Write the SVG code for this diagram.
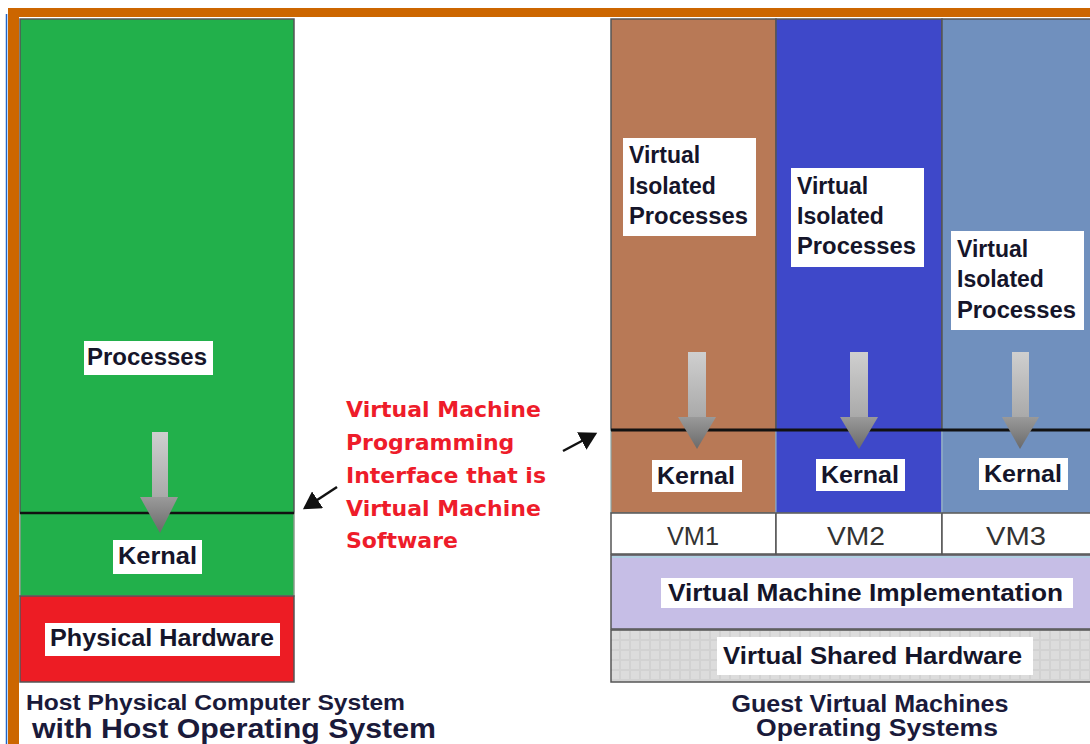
<svg xmlns="http://www.w3.org/2000/svg" width="1090" height="744" viewBox="0 0 1090 744">
<style>
.lbl{font-family:"Liberation Sans",Arial,sans-serif;font-weight:bold;font-size:23px;fill:#15152a}
.vm{font-family:"Liberation Sans",Arial,sans-serif;font-size:25px;fill:#333;text-anchor:middle}
.red{font-family:"DejaVu Sans",Verdana,sans-serif;font-weight:bold;font-size:22px;fill:#ee1c2a}
.cap{font-family:"Liberation Sans",Arial,sans-serif;font-weight:bold;fill:#1a1a3a}
.box{fill:#fff}
.edge{stroke:#555;stroke-width:1.5}
.shaft{fill:url(#shaftG)}
.head{fill:url(#headG)}
</style>
<defs>
<linearGradient id="shaftG" x1="0" y1="0" x2="0" y2="1">
<stop offset="0" stop-color="#cfcfcf"/><stop offset="1" stop-color="#a9a9a9"/>
</linearGradient>
<linearGradient id="headG" x1="0" y1="0" x2="0" y2="1">
<stop offset="0" stop-color="#9a9a9a"/><stop offset="1" stop-color="#6a6a6a"/>
</linearGradient>
<pattern id="dots" width="10" height="10" patternUnits="userSpaceOnUse">
<rect width="10" height="10" fill="#d2d2d2"/><rect x="1" y="1" width="8" height="8" fill="#dcdcdc"/>
</pattern>
<marker id="ah" markerWidth="8" markerHeight="8" refX="6" refY="4" orient="auto" markerUnits="strokeWidth">
<path d="M0,0 L7,4 L0,8 Z" fill="#111"/>
</marker>
</defs>
<rect width="1090" height="744" fill="#fff"/>
<!-- frame -->
<rect x="8" y="8" width="1082" height="9" fill="#cc6600"/>
<rect x="8" y="8" width="11" height="736" fill="#cc6600"/>
<line x1="6.5" y1="14" x2="6.5" y2="744" stroke="#1f64c8" stroke-width="1.5"/>

<!-- Host side -->
<g id="host-processes">
<rect x="20" y="19" width="274" height="494" fill="#22b04b" class="edge"/>
<rect x="84" y="341" width="129" height="34" class="box"/>
<text class="lbl" x="87" y="365" textLength="120" lengthAdjust="spacingAndGlyphs">Processes</text>
</g>
<g id="host-kernal">
<rect x="20" y="513" width="274" height="83" fill="#22b04b" stroke="#8a9a8a" stroke-width="1.5"/>
<line x1="20" y1="513" x2="294" y2="513" stroke="#111" stroke-width="2.5"/>
<rect x="113" y="540" width="89" height="34" class="box"/>
<text class="lbl" x="118" y="564" textLength="79" lengthAdjust="spacingAndGlyphs">Kernal</text>
</g>
<g id="physical-hardware">
<rect x="20" y="596" width="274" height="86" fill="#ed1c24" class="edge"/>
<rect x="45" y="623" width="235" height="33" class="box"/>
<text class="lbl" x="50" y="646" textLength="224" lengthAdjust="spacingAndGlyphs">Physical Hardware</text>
</g>
<g id="host-caption">
<text class="cap" x="26" y="710" font-size="22" textLength="379" lengthAdjust="spacingAndGlyphs">Host Physical Computer System</text>
<text class="cap" x="32" y="738" font-size="27" textLength="404" lengthAdjust="spacingAndGlyphs">with Host Operating System</text>
</g>

<!-- Guest side -->
<g id="vm1">
<rect x="611" y="19" width="165" height="411" fill="#b87956" class="edge"/>
<rect x="611" y="430" width="165" height="83" fill="#b87956" stroke="#8aa6a6" stroke-width="1.2"/>
<rect x="623" y="138" width="133" height="98" class="box"/>
<text class="lbl" x="629" y="163">Virtual</text>
<text class="lbl" x="629" y="194">Isolated</text>
<text class="lbl" x="629" y="224" textLength="119" lengthAdjust="spacingAndGlyphs">Processes</text>
<rect x="652" y="460" width="90" height="32" class="box"/>
<text class="lbl" x="657" y="484" textLength="78" lengthAdjust="spacingAndGlyphs">Kernal</text>
<rect x="611" y="513" width="165" height="41" fill="#fff" class="edge"/>
<text class="vm" x="693" y="545" textLength="52" lengthAdjust="spacingAndGlyphs">VM1</text>
</g>
<g id="vm2">
<rect x="776" y="19" width="166" height="411" fill="#3e48c9" class="edge"/>
<rect x="776" y="430" width="166" height="83" fill="#3e48c9" stroke="#8aa6c6" stroke-width="1.2"/>
<rect x="791" y="168" width="133" height="99" class="box"/>
<text class="lbl" x="797" y="194">Virtual</text>
<text class="lbl" x="797" y="224">Isolated</text>
<text class="lbl" x="797" y="254" textLength="119" lengthAdjust="spacingAndGlyphs">Processes</text>
<rect x="816" y="459" width="89" height="32" class="box"/>
<text class="lbl" x="821" y="483" textLength="78" lengthAdjust="spacingAndGlyphs">Kernal</text>
<rect x="776" y="513" width="166" height="41" fill="#fff" class="edge"/>
<text class="vm" x="856" y="545" textLength="58" lengthAdjust="spacingAndGlyphs">VM2</text>
</g>
<g id="vm3">
<rect x="942" y="19" width="150" height="411" fill="#7090be" class="edge"/>
<rect x="942" y="430" width="150" height="83" fill="#7090be" stroke="#9ab6c6" stroke-width="1.2"/>
<rect x="951" y="231" width="133" height="99" class="box"/>
<text class="lbl" x="957" y="257">Virtual</text>
<text class="lbl" x="957" y="287">Isolated</text>
<text class="lbl" x="957" y="318" textLength="119" lengthAdjust="spacingAndGlyphs">Processes</text>
<rect x="979" y="458" width="89" height="32" class="box"/>
<text class="lbl" x="984" y="482" textLength="78" lengthAdjust="spacingAndGlyphs">Kernal</text>
<rect x="942" y="513" width="150" height="41" fill="#fff" class="edge"/>
<text class="vm" x="1016" y="545" textLength="60" lengthAdjust="spacingAndGlyphs">VM3</text>
</g>
<line x1="611" y1="430" x2="1090" y2="430" stroke="#111" stroke-width="3"/>
<g id="vm-implementation">
<rect x="611" y="555" width="481" height="74" fill="#c6bee6" stroke="#555" stroke-width="1.5"/>
<line x1="612" y1="557" x2="1090" y2="557" stroke="#a8d4e0" stroke-width="1.5"/>
<rect x="661" y="578" width="412" height="30" class="box"/>
<text class="lbl" x="668" y="601" textLength="395" lengthAdjust="spacingAndGlyphs">Virtual Machine  Implementation</text>
</g>
<g id="shared-hardware">
<rect x="611" y="630" width="481" height="52" fill="url(#dots)" stroke="#555" stroke-width="1.5"/>
<rect x="717" y="637" width="316" height="38" class="box"/>
<text class="lbl" x="723" y="664" textLength="299" lengthAdjust="spacingAndGlyphs">Virtual Shared Hardware</text>
</g>
<g id="guest-caption">
<text class="cap" x="870" y="712" font-size="23" text-anchor="middle" textLength="277" lengthAdjust="spacingAndGlyphs">Guest Virtual Machines</text>
<text class="cap" x="877" y="736" font-size="23" text-anchor="middle" textLength="242" lengthAdjust="spacingAndGlyphs">Operating Systems</text>
</g>

<g id="vmpi-note">
<text class="red" x="346" y="417">Virtual Machine</text>
<text class="red" x="346" y="450">Programming</text>
<text class="red" x="346" y="483">Interface that is</text>
<text class="red" x="346" y="516">Virtual Machine</text>
<text class="red" x="346" y="548">Software</text>
</g>

<g id="connectors">
<rect class="shaft" x="152" y="432" width="16" height="66"/>
<polygon class="head" points="140,497 178,497 160,533"/>
<rect class="shaft" x="688" y="352" width="18" height="66"/>
<polygon class="head" points="678,417 716,417 697,449"/>
<rect class="shaft" x="850" y="352" width="18" height="66"/>
<polygon class="head" points="840,417 878,417 859,449"/>
<rect class="shaft" x="1012" y="352" width="17" height="66"/>
<polygon class="head" points="1002,417 1039,417 1020,449"/>
<line x1="337" y1="487" x2="305" y2="508" stroke="#111" stroke-width="2.5" marker-end="url(#ah)"/>
<line x1="563" y1="451" x2="595" y2="434" stroke="#111" stroke-width="2.5" marker-end="url(#ah)"/>
</g>
</svg>
